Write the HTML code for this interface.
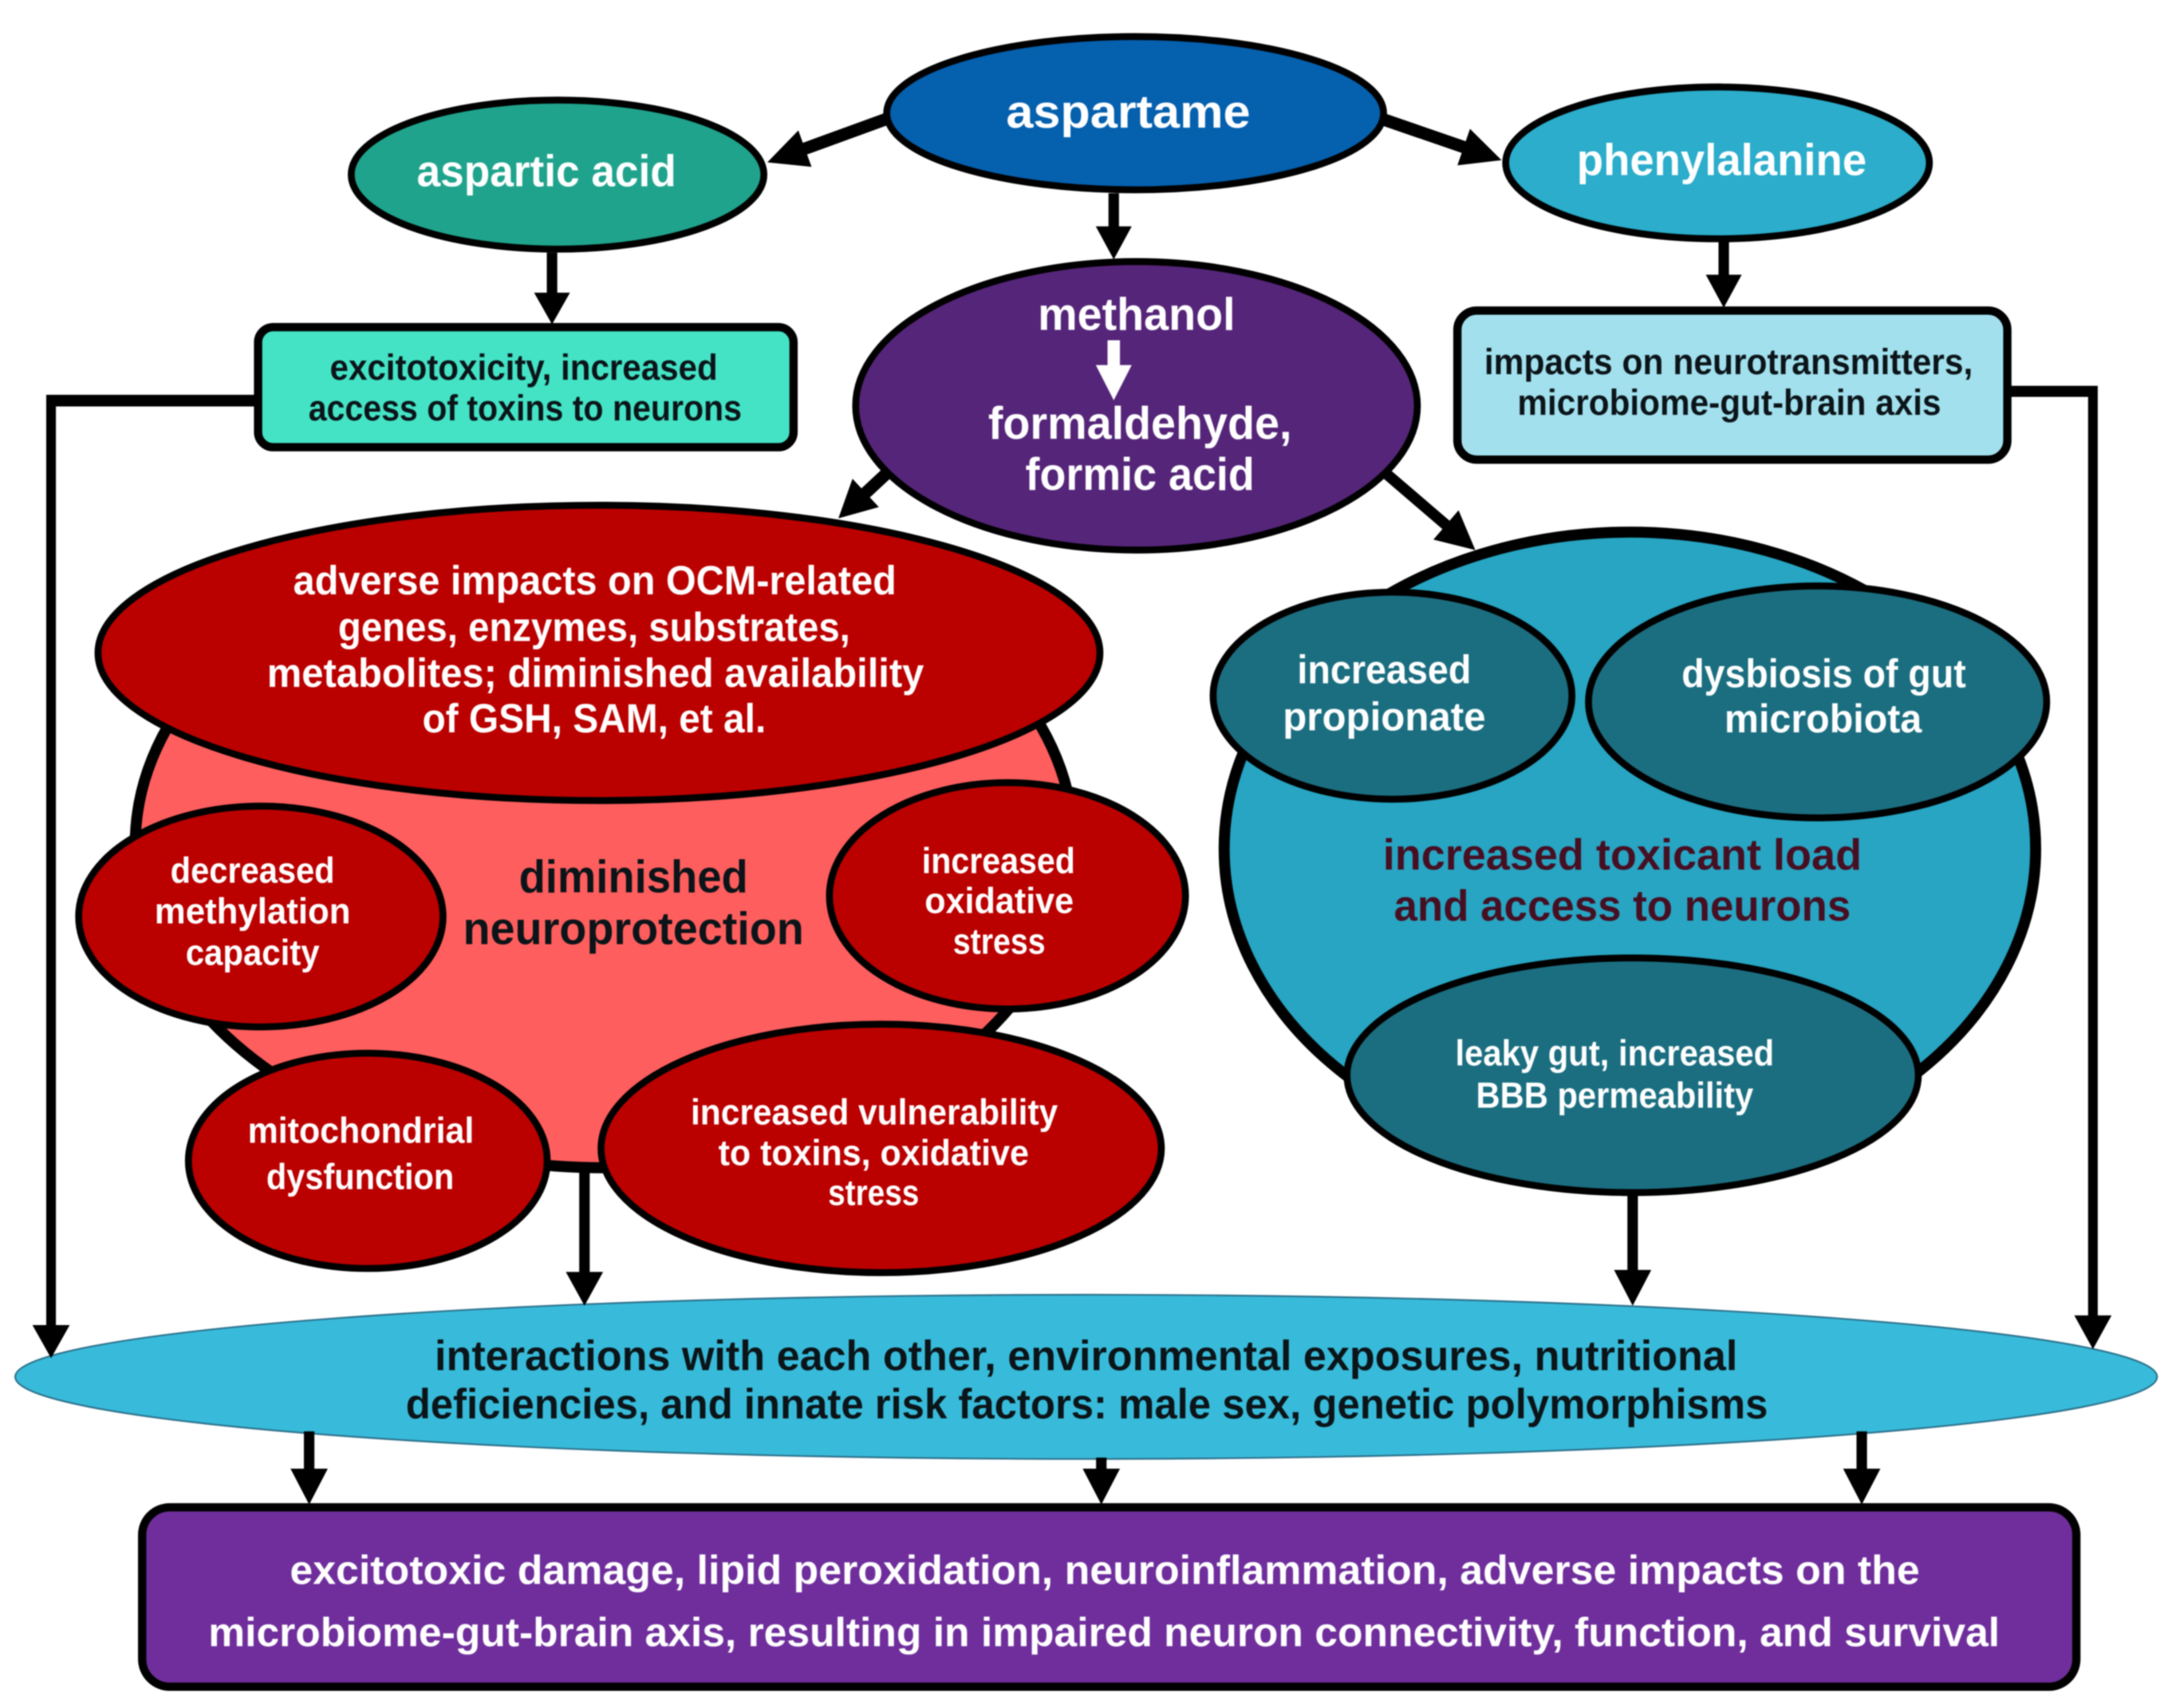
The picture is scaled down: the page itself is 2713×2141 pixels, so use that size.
<!DOCTYPE html>
<html><head><meta charset="utf-8"><style>
html,body{margin:0;padding:0;background:#fff;width:2713px;height:2141px;overflow:hidden}
svg{display:block;filter:blur(0.9px)}
text{font-family:"Liberation Sans",sans-serif;font-weight:bold;fill:#fff}
.d{fill:#0b1418}
.m{fill:#470f22}
</style></head><body>
<svg width="2713" height="2141" viewBox="0 0 1568 1237.4" xmlns="http://www.w3.org/2000/svg">
<rect width="1568" height="1238" fill="#fff"/>
<g stroke="#000" stroke-width="5">
<ellipse cx="822.5" cy="82" rx="180" ry="55.5" fill="#0560AE"/>
<ellipse cx="404" cy="126.5" rx="149.500" ry="54" fill="#1FA38C"/>
<ellipse cx="1244.5" cy="118" rx="153.500" ry="55" fill="#2BADCB"/>
<ellipse cx="823.5" cy="294" rx="203.500" ry="104.500" fill="#552579"/>
<rect x="187" y="237" width="388" height="87" rx="11" fill="#44E3C6" stroke-width="6"/>
<rect x="1056" y="225" width="398.5" height="108" rx="14" fill="#A2E0EE" stroke-width="6"/>
<ellipse cx="438" cy="612" rx="340" ry="234" fill="#FF5E5E" stroke-width="8"/>
<ellipse cx="434" cy="473" rx="363" ry="107" fill="#BB0000"/>
<ellipse cx="189" cy="664" rx="132" ry="80" fill="#BB0000"/>
<ellipse cx="730" cy="649" rx="129" ry="82" fill="#BB0000"/>
<ellipse cx="266.5" cy="841" rx="130" ry="78" fill="#BB0000"/>
<ellipse cx="638.5" cy="832" rx="203" ry="90" fill="#BB0000"/>
<ellipse cx="1181" cy="615" rx="294" ry="229.500" fill="#27A5C3" stroke-width="8"/>
<ellipse cx="1009" cy="504" rx="130" ry="75" fill="#1B6E80"/>
<ellipse cx="1317" cy="508.5" rx="166" ry="84" fill="#1B6E80"/>
<ellipse cx="1183" cy="779" rx="207" ry="85" fill="#1B6E80"/>
<ellipse cx="787" cy="997.5" rx="776" ry="59.5" fill="#38BBDA" stroke="#2a6f8a" stroke-width="1.2"/>
<rect x="103" y="1092" width="1401.5" height="130" rx="20" fill="#6F2E9C" stroke-width="6"/>
</g>
<!-- connectors -->
<g fill="#000">
<g transform="translate(556,117.6) rotate(160)"><rect x="-92" y="-4.500" width="72" height="9"/><polygon points="0,0 -29,-14 -29,14"/></g>
<g transform="translate(1088,116) rotate(19)"><rect x="-90" y="-4.500" width="72" height="9"/><polygon points="0,0 -29,-14 -29,14"/></g>
<g transform="translate(607.5,375.5) rotate(137)"><rect x="-51" y="-4.500" width="33" height="9"/><polygon points="0,0 -27,-14 -27,14"/></g>
<g transform="translate(1069,398.5) rotate(40.6)"><rect x="-85" y="-4" width="68" height="8"/><polygon points="0,0 -28,-14 -28,14"/></g>
<path d="M396.200 183h7.600v29h9.200L400 235 387 212h9.200z"/>
<path d="M803.200 140h7.600v24h9.200L807 188 794 164h9.200z"/>
<path d="M1245.200 175h7.600v24h9.200L1249 223 1236 199h9.200z"/>
<path d="M185 286v8.500H40.500v665.500h10L37 984 23.500 960h10V286z"/>
<path d="M1456 279.500v8H1513v665.500h-10l13.500 24.500L1530 953h-10V279.500z"/>
<path d="M419.700 846h7.600v75.500H437L423.500 946 410 921.500h9.700z"/>
<path d="M1179.200 864h7.600v56H1196.500L1183 946 1169.500 920h9.700z"/>
<path d="M220.200 1037h7.600v27H237.500L224 1090 210.500 1064h9.700z"/>
<path d="M794.200 1056h7.600v8H811.500L798 1090 784.500 1064h9.700z"/>
<path d="M1345.200 1037h7.600v27H1362.500L1349 1090 1335.500 1064h9.700z"/>
</g>
<path d="M802.500 246.500h9v18H820L807 290 794 264.500h8.500z" fill="#fff"/>
<!-- labels -->
<g text-anchor="middle">
<text x="817.500" y="92.500" font-size="34" textLength="177" lengthAdjust="spacingAndGlyphs">aspartame</text>
<text x="396" y="135" font-size="32" textLength="188" lengthAdjust="spacingAndGlyphs">aspartic acid</text>
<text x="1247.500" y="127" font-size="32" textLength="210" lengthAdjust="spacingAndGlyphs">phenylalanine</text>
<text class="d" x="379.500" y="275" font-size="26" textLength="281" lengthAdjust="spacingAndGlyphs">excitotoxicity, increased</text>
<text class="d" x="380.500" y="304.500" font-size="26" textLength="314" lengthAdjust="spacingAndGlyphs">access of toxins to neurons</text>
<text class="d" x="1252.500" y="271" font-size="26" textLength="354" lengthAdjust="spacingAndGlyphs">impacts on neurotransmitters,</text>
<text class="d" x="1253" y="300.500" font-size="26" textLength="307" lengthAdjust="spacingAndGlyphs">microbiome-gut-brain axis</text>
<text x="823.500" y="239" font-size="33" textLength="143" lengthAdjust="spacingAndGlyphs">methanol</text>
<text x="826" y="318" font-size="33" textLength="220" lengthAdjust="spacingAndGlyphs">formaldehyde,</text>
<text x="826" y="355" font-size="33" textLength="166" lengthAdjust="spacingAndGlyphs">formic acid</text>
<text x="431" y="430.500" font-size="29.500" textLength="437" lengthAdjust="spacingAndGlyphs">adverse impacts on OCM-related</text>
<text x="430.500" y="464.500" font-size="29.500" textLength="371" lengthAdjust="spacingAndGlyphs">genes, enzymes, substrates,</text>
<text x="431.500" y="497.500" font-size="29.500" textLength="476" lengthAdjust="spacingAndGlyphs">metabolites; diminished availability</text>
<text x="430.500" y="530.500" font-size="29.500" textLength="249" lengthAdjust="spacingAndGlyphs">of GSH, SAM, et al.</text>
<text class="d" x="459" y="646.500" font-size="33" textLength="166" lengthAdjust="spacingAndGlyphs">diminished</text>
<text class="d" x="459" y="684" font-size="33" textLength="247" lengthAdjust="spacingAndGlyphs">neuroprotection</text>
<text x="183" y="639.500" font-size="26.500" textLength="119" lengthAdjust="spacingAndGlyphs">decreased</text>
<text x="183" y="669" font-size="26.500" textLength="142" lengthAdjust="spacingAndGlyphs">methylation</text>
<text x="183" y="699" font-size="26.500" textLength="97" lengthAdjust="spacingAndGlyphs">capacity</text>
<text x="723.500" y="632.500" font-size="26.500" textLength="111" lengthAdjust="spacingAndGlyphs">increased</text>
<text x="724" y="661.500" font-size="26.500" textLength="108" lengthAdjust="spacingAndGlyphs">oxidative</text>
<text x="724" y="691" font-size="26.500" textLength="67" lengthAdjust="spacingAndGlyphs">stress</text>
<text x="261.500" y="828" font-size="26.500" textLength="164" lengthAdjust="spacingAndGlyphs">mitochondrial</text>
<text x="261" y="861.500" font-size="26.500" textLength="136" lengthAdjust="spacingAndGlyphs">dysfunction</text>
<text x="633.500" y="814.500" font-size="26.500" textLength="266" lengthAdjust="spacingAndGlyphs">increased vulnerability</text>
<text x="633" y="844" font-size="26.500" textLength="225" lengthAdjust="spacingAndGlyphs">to toxins, oxidative</text>
<text x="633" y="873" font-size="26.500" textLength="66" lengthAdjust="spacingAndGlyphs">stress</text>
<text x="1003" y="495" font-size="29" textLength="126" lengthAdjust="spacingAndGlyphs">increased</text>
<text x="1003" y="529" font-size="29" textLength="147" lengthAdjust="spacingAndGlyphs">propionate</text>
<text x="1321.500" y="498" font-size="29" textLength="206" lengthAdjust="spacingAndGlyphs">dysbiosis of gut</text>
<text x="1321" y="530.500" font-size="29" textLength="143" lengthAdjust="spacingAndGlyphs">microbiota</text>
<text class="m" x="1175.500" y="630" font-size="31.500" textLength="347" lengthAdjust="spacingAndGlyphs">increased toxicant load</text>
<text class="m" x="1175.500" y="667" font-size="31.500" textLength="331" lengthAdjust="spacingAndGlyphs">and access to neurons</text>
<text x="1170" y="772" font-size="26" textLength="231" lengthAdjust="spacingAndGlyphs">leaky gut, increased</text>
<text x="1170" y="802.500" font-size="26" textLength="201" lengthAdjust="spacingAndGlyphs">BBB permeability</text>
<text class="d" x="787" y="992.500" font-size="30.500" textLength="944" lengthAdjust="spacingAndGlyphs">interactions with each other, environmental exposures, nutritional</text>
<text class="d" x="787.500" y="1027.500" font-size="30.500" textLength="987" lengthAdjust="spacingAndGlyphs">deficiencies, and innate risk factors: male sex, genetic polymorphisms</text>
<text x="800.500" y="1147.500" font-size="29.500" textLength="1181" lengthAdjust="spacingAndGlyphs">excitotoxic damage, lipid peroxidation, neuroinflammation, adverse impacts on the</text>
<text x="800" y="1192.500" font-size="29.500" textLength="1298" lengthAdjust="spacingAndGlyphs">microbiome-gut-brain axis, resulting in impaired neuron connectivity, function, and survival</text>
</g>
</svg>
</body></html>
